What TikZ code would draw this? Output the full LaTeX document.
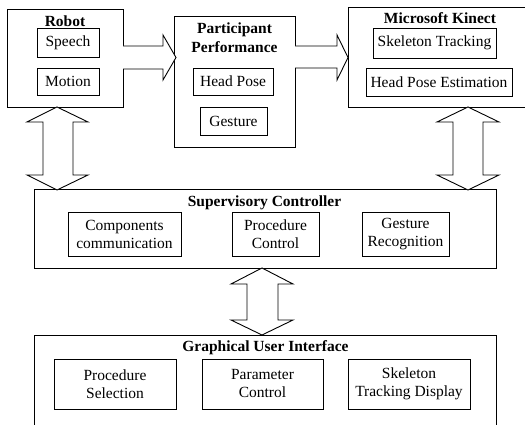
\documentclass[tikz,border=0pt]{standalone}
\usepackage{fontspec}
\setmainfont{Liberation Serif}
\begin{document}
\begin{tikzpicture}[x=1pt,y=-1pt,
  every node/.style={inner sep=0pt,outer sep=0pt},
  box/.style={draw,line width=0.9pt,fill=none},
  lbl/.style={font=\fontsize{15.5}{18}\selectfont,align=center},
  ttl/.style={font=\fontsize{15.5}{19}\selectfont\bfseries,align=center},
  blk/.style={draw,line width=0.9pt,fill=white,line join=miter}]
\useasboundingbox (0,0) rectangle (525,427);
\clip (0,0) rectangle (525,427);
% Robot
\node[box,minimum width=116pt,minimum height=98pt] (robot) at (65,58) {};
\node[ttl] (robotT) at (65,21) {Robot};
\node[box,lbl,minimum width=62pt,minimum height=29pt] (speech) at (68,42.5) {Speech};
\node[box,lbl,minimum width=62pt,minimum height=27pt] (motion) at (68,81.5) {Motion};
% Participant
\node[box,minimum width=121pt,minimum height=131pt] (part) at (234.5,81.5) {};
\node[ttl] (partT) at (234.5,37.5) {Participant\\Performance};
\node[box,lbl,minimum width=80pt,minimum height=27pt] (head) at (233,81.5) {Head Pose};
\node[box,lbl,minimum width=67pt,minimum height=28pt] (gest) at (233.5,121) {Gesture};
% Kinect
\draw[line width=0.9pt] (530,7) -- (348,7) -- (348,107) -- (530,107);
\coordinate (kinW) at (348,57);
\node[ttl] (kinT) at (440,18) {Microsoft Kinect};
\node[box,lbl,minimum width=123pt,minimum height=30pt] (skel) at (434.5,43) {Skeleton Tracking};
\node[box,lbl,minimum width=146pt,minimum height=28pt] (hpe) at (439,82) {Head Pose Estimation};
% Supervisory
\node[box,minimum width=462pt,minimum height=79pt] (sup) at (265,228.5) {};
\node[ttl] (supT) at (264.5,203) {Supervisory Controller};
\node[box,lbl,minimum width=113pt,minimum height=44pt] (comp) at (124.5,234) {Components\\communication};
\node[box,lbl,minimum width=87pt,minimum height=44pt] (proc) at (275.5,234) {Procedure\\Control};
\node[box,lbl,minimum width=87pt,minimum height=44pt] (grec) at (405.5,234) {Gesture\\Recognition};
% GUI
\draw[line width=0.9pt] (34,425) -- (34,335) -- (496,335) -- (496,425);
\node[ttl] (guiT) at (265.5,348) {Graphical User Interface};
\node[box,lbl,minimum width=122pt,minimum height=50pt] (psel) at (115,384) {Procedure\\Selection};
\node[box,lbl,minimum width=121pt,minimum height=50pt] (pctl) at (262.5,384) {Parameter\\Control};
\node[box,lbl,minimum width=122pt,minimum height=50pt] (std) at (409,384) {Skeleton\\Tracking Display};
% block arrows
\draw[blk] (123,46) -- (163,46) -- (163,35) -- (176,57.5) -- (163,80) -- (163,69) -- (123,69);
\draw[blk] (295,46) -- (337,46) -- (337,35) -- (348,57.5) -- (337,80) -- (337,68) -- (295,68);
\draw[blk] (57,107) -- (88,122) -- (73,122) -- (73,175) -- (88,175) -- (57,190) -- (27,175) -- (43,175) -- (43,122) -- (27,122) -- cycle;
\draw[blk] (468,107) -- (499,122) -- (483,122) -- (483,175) -- (499,175) -- (468,190) -- (437,175) -- (453,175) -- (453,122) -- (437,122) -- cycle;
\draw[blk] (262,268) -- (293,284) -- (278,284) -- (278,320) -- (293,320) -- (262,335) -- (231,320) -- (247,320) -- (247,284) -- (231,284) -- cycle;
\end{tikzpicture}
\end{document}
